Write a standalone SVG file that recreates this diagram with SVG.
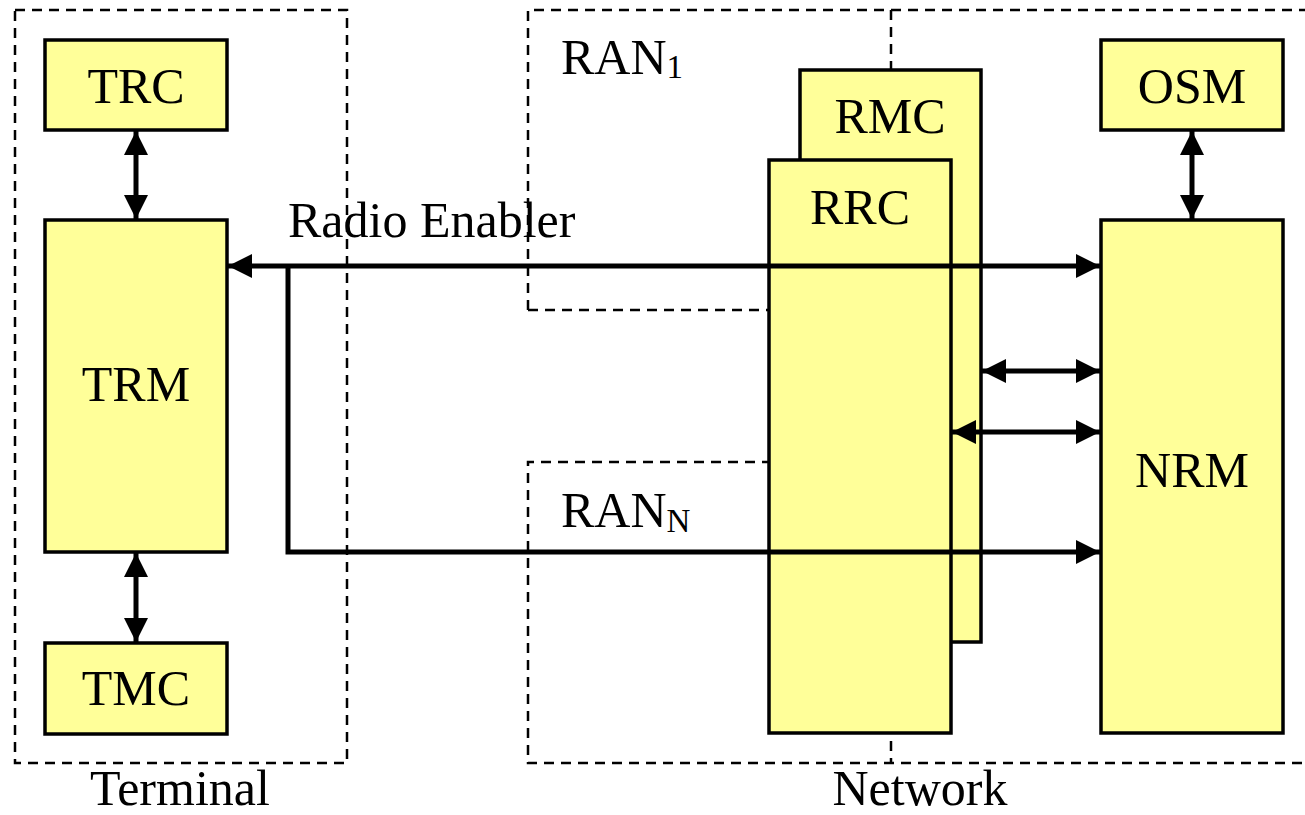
<svg xmlns="http://www.w3.org/2000/svg" width="1305" height="815" viewBox="0 0 1305 815">
<defs>
<style>
.box{fill:#FFFF99;stroke:#000;stroke-width:3.5}
.dash{fill:none;stroke:#000;stroke-width:2.5;stroke-dasharray:10 7}
.conn{fill:none;stroke:#000;stroke-width:5}
text{font-family:"Liberation Serif","Times New Roman",serif;font-size:50px;fill:#000}
.c{text-anchor:middle}
.sub{font-size:33px}
</style>
<marker id="ah" viewBox="0 0 24 24" refX="24" refY="12" markerWidth="24" markerHeight="24" markerUnits="userSpaceOnUse" orient="auto-start-reverse">
<path d="M0,0 L24,12 L0,24 Z" fill="#000"/>
</marker>
</defs>
<rect width="1305" height="815" fill="#fff"/>
<g id="groups">
<rect class="dash" x="15" y="10" width="332" height="753"/>
<path class="dash" d="M528,310 V10 H1305"/>
<path class="dash" d="M528,310 H891"/>
<path class="dash" d="M891,462 H528 V763 H1305"/>
<path class="dash" d="M891,10 V763"/>
<text x="180" y="805" class="c">Terminal</text>
<text x="920" y="805" class="c">Network</text>
<text x="561" y="74">RAN<tspan class="sub" dy="4">1</tspan></text>
<text x="561" y="527">RAN<tspan class="sub" dy="5">N</tspan></text>
</g>
<g id="TRC"><rect class="box" x="45" y="40" width="182" height="90"/><text x="136" y="103" class="c">TRC</text></g>
<g id="TRM"><rect class="box" x="45" y="220" width="182" height="332"/><text x="136" y="401" class="c">TRM</text></g>
<g id="TMC"><rect class="box" x="45" y="643" width="182" height="91"/><text x="136" y="705" class="c">TMC</text></g>
<g id="RMC"><rect class="box" x="800" y="70" width="181" height="572"/><text x="890" y="133" class="c">RMC</text></g>
<g id="RRC"><rect class="box" x="769" y="160" width="182" height="573"/><text x="860" y="224" class="c">RRC</text></g>
<g id="OSM"><rect class="box" x="1101" y="40" width="182" height="90"/><text x="1192" y="103" class="c">OSM</text></g>
<g id="NRM"><rect class="box" x="1101" y="220" width="182" height="513"/><text x="1192" y="487" class="c">NRM</text></g>
<g id="connectors">
<line class="conn" x1="136" y1="131" x2="136" y2="219" marker-start="url(#ah)" marker-end="url(#ah)"/>
<line class="conn" x1="136" y1="553" x2="136" y2="642" marker-start="url(#ah)" marker-end="url(#ah)"/>
<line class="conn" x1="1192" y1="131" x2="1192" y2="219" marker-start="url(#ah)" marker-end="url(#ah)"/>
<line class="conn" x1="228" y1="266" x2="1100" y2="266" marker-start="url(#ah)" marker-end="url(#ah)"/>
<path class="conn" d="M288,266 V552 H1100" marker-end="url(#ah)" stroke-linejoin="miter"/>
<line class="conn" x1="982" y1="371" x2="1100" y2="371" marker-start="url(#ah)" marker-end="url(#ah)"/>
<line class="conn" x1="952" y1="432" x2="1100" y2="432" marker-start="url(#ah)" marker-end="url(#ah)"/>
<text x="288" y="237">Radio Enabler</text>
</g>
</svg>
